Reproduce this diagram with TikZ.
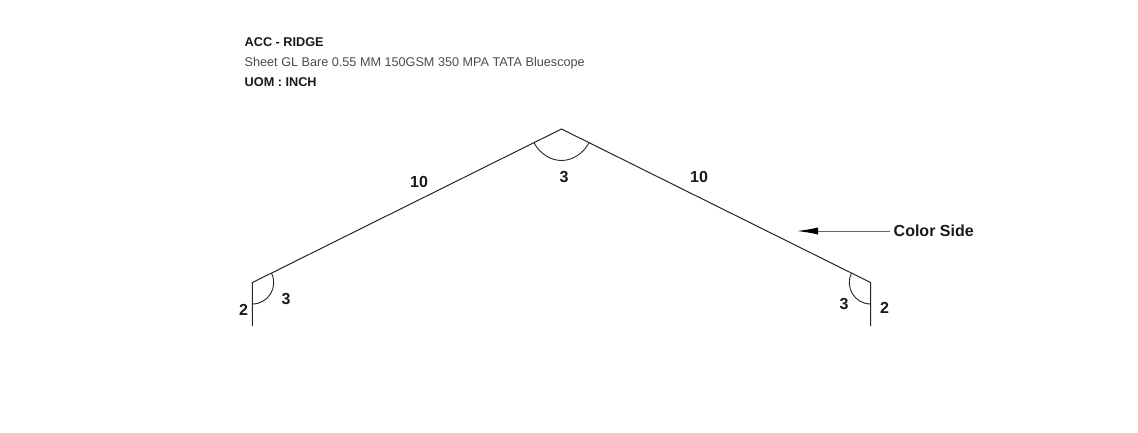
\documentclass[tikz,border=0pt]{standalone}
\usepackage{fontspec}
\setmainfont{Liberation Sans}
\usetikzlibrary{arrows.meta}
\tikzset{
  profile/.style={draw=black!85,line width=1pt,line join=miter},
  anglearc/.style={draw=black!85,line width=0.9pt},
  dimlabel/.style={font=\fontsize{16}{16}\selectfont\bfseries,text=black!90,inner sep=0pt,anchor=center},
  headbold/.style={font=\fontsize{12.7}{15}\selectfont\bfseries,text=black!90,inner sep=0pt,anchor=west},
  headreg/.style={font=\fontsize{12.65}{15}\selectfont,text=black!70,inner sep=0pt,anchor=west},
  pointer/.style={draw=black!60,line width=1pt,-{Latex[length=21pt,width=7pt,black]}}
}
\begin{document}
\begin{tikzpicture}[x=1pt,y=-1pt]
\useasboundingbox[fill=white] (0,0) rectangle (1138,433);
\coordinate (A) at (252.3,326);
\coordinate (B) at (252.3,282.6);
\coordinate (C) at (561.5,129);
\coordinate (D) at (870.7,282.6);
\coordinate (E) at (870.7,326);
\coordinate (tip) at (797,231);
\coordinate (tail) at (890,231);
\draw[profile] (A) -- (B) -- (C) -- (D) -- (E);
% angle arcs, centred on the bends
\draw[anglearc] (252.3,304) .. controls (268.2,304) and (278.54,287.33) .. (271.47,273.08);
\draw[anglearc] (534,142.8) .. controls (540,154) and (551,160.5) .. (561.5,160.5) .. controls (572,160.5) and (583,154) .. (589,142.8);
\draw[anglearc] (870.7,304) .. controls (854.8,304) and (844.46,287.33) .. (851.53,273.08);
\node[headbold] (title) at (244.5,42.5) {ACC - RIDGE};
\node[headreg] (spec) at (244.5,63.3) {Sheet GL Bare 0.55 MM 150GSM 350 MPA TATA Bluescope};
\node[headbold] (uom) at (244.5,82.5) {UOM : INCH};
\node[dimlabel] (l1) at (419,181.5) {10};
\node[dimlabel] (l2) at (699,177) {10};
\node[dimlabel] (l3) at (564,177) {3};
\node[dimlabel] (l4) at (243.5,309.5) {2};
\node[dimlabel] (l5) at (286,299) {3};
\node[dimlabel] (l6) at (844,304.5) {3};
\node[dimlabel] (l7) at (884.5,307.5) {2};
\node[font=\fontsize{16}{16}\selectfont\bfseries,text=black!90,inner sep=0pt,anchor=west] (color) at (893.5,230.5) {Color Side};
\draw[pointer] (tail) -- (tip);
\end{tikzpicture}
\end{document}
